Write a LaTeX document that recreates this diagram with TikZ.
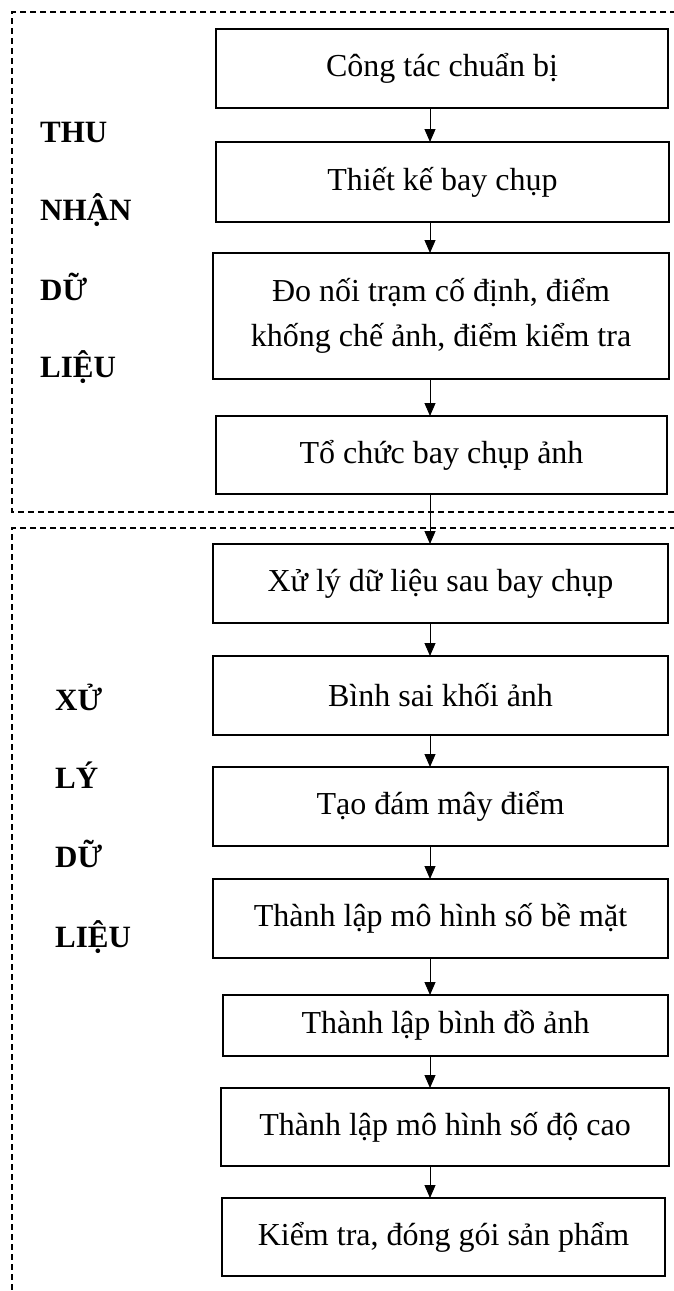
\documentclass[tikz,border=0pt]{standalone}
\usepackage{fontspec}
\setmainfont{Liberation Serif}
\usetikzlibrary{arrows.meta}
\tikzset{
  box/.style={draw, line width=1.3pt, inner sep=0pt, outer sep=0pt, align=center,
    font=\fontsize{32}{45}\selectfont},
  grp/.style={line width=1.1pt, dash pattern=on 6pt off 4pt},
  lbl/.style={anchor=base west, inner sep=0pt, font=\fontsize{31}{36}\selectfont\bfseries},
  arr/.style={line width=1pt, -{Triangle[length=13pt,width=11pt]}}
}
\begin{document}
\begin{tikzpicture}[x=1pt,y=-1pt]
\useasboundingbox (0,0) rectangle (674,1291);
% group frames
\draw[grp] (676,12) -- (12,12) -- (12,512) -- (676,512);
\draw[grp] (676,528) -- (12,528) -- (12,1293);
% boxes
\node[box, minimum width=452, minimum height=79] (b1) at (442,68.5) {Công tác chuẩn bị};
\node[box, minimum width=453, minimum height=80] (b2) at (442.5,182) {Thiết kế bay chụp};
\node[box, minimum width=456, minimum height=126] (b3) at (441,316) {Đo nối trạm cố định, điểm\\khống chế ảnh, điểm kiểm tra};
\node[box, minimum width=451, minimum height=78] (b4) at (441.5,455) {Tổ chức bay chụp ảnh};
\node[box, minimum width=455, minimum height=79] (b5) at (440.5,583.5) {Xử lý dữ liệu sau bay chụp};
\node[box, minimum width=455, minimum height=79] (b6) at (440.5,695.5) {Bình sai khối ảnh};
\node[box, minimum width=455, minimum height=79] (b7) at (440.5,806.5) {Tạo đám mây điểm};
\node[box, minimum width=455, minimum height=79] (b8) at (440.5,918.5) {Thành lập mô hình số bề mặt};
\node[box, minimum width=445, minimum height=61] (b9) at (445.5,1025.5) {Thành lập bình đồ ảnh};
\node[box, minimum width=448, minimum height=78] (b10) at (445,1127) {Thành lập mô hình số độ cao};
\node[box, minimum width=443, minimum height=78] (b11) at (443.5,1237) {Kiểm tra, đóng gói sản phẩm};
% arrow axis
\coordinate (ax) at (430,0);
\draw[arr] (b1.south -| ax) -- (b2.north -| ax);
\draw[arr] (b2.south -| ax) -- (b3.north -| ax);
\draw[arr] (b3.south -| ax) -- (b4.north -| ax);
\draw[arr] (b4.south -| ax) -- (b5.north -| ax);
\draw[arr] (b5.south -| ax) -- (b6.north -| ax);
\draw[arr] (b6.south -| ax) -- (b7.north -| ax);
\draw[arr] (b7.south -| ax) -- (b8.north -| ax);
\draw[arr] (b8.south -| ax) -- (b9.north -| ax);
\draw[arr] (b9.south -| ax) -- (b10.north -| ax);
\draw[arr] (b10.south -| ax) -- (b11.north -| ax);
% side labels
\node[lbl] (l1) at (40,142) {THU};
\node[lbl] (l2) at (40,220) {NHẬN};
\node[lbl] (l3) at (40,300) {DỮ};
\node[lbl] (l4) at (40,377) {LIỆU};
\node[lbl] (m1) at (55,710) {XỬ};
\node[lbl] (m2) at (55,788) {LÝ};
\node[lbl] (m3) at (55,867) {DỮ};
\node[lbl] (m4) at (55,947) {LIỆU};
\end{tikzpicture}
\end{document}
